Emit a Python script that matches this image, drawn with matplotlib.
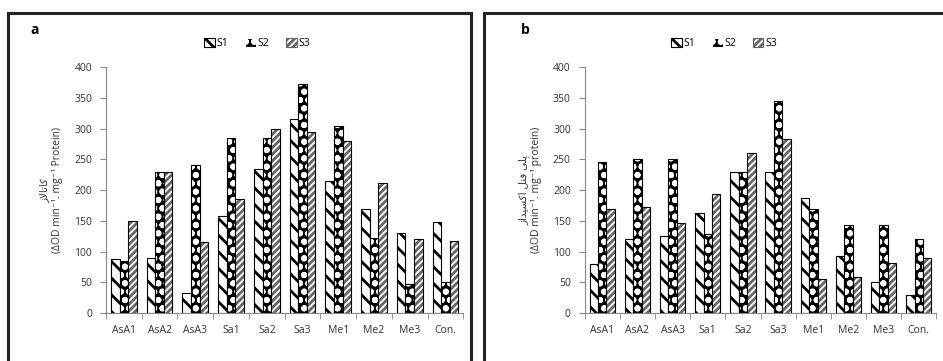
import matplotlib.pyplot as plt
import numpy as np
from matplotlib.patches import Rectangle

plt.rcParams['font.family'] = ['Open Sans', 'DejaVu Sans']
plt.rcParams['hatch.linewidth'] = 2.0

categories = ['AsA1', 'AsA2', 'AsA3', 'Sa1', 'Sa2', 'Sa3', 'Me1', 'Me2', 'Me3', 'Con.']
series = ['S1', 'S2', 'S3']

# panel a
a_s1 = [88, 90, 33, 158, 235, 315, 215, 170, 130, 148]
a_s2 = [84, 230, 240, 285, 285, 372, 305, 122, 47, 50]
a_s3 = [150, 230, 115, 185, 300, 295, 280, 212, 120, 117]

# panel b
b_s1 = [80, 120, 125, 163, 230, 230, 187, 92, 50, 30]
b_s2 = [245, 250, 250, 128, 230, 345, 170, 143, 143, 120]
b_s3 = [170, 172, 147, 193, 260, 283, 55, 58, 82, 90]

# Persian labels written as presentation forms in visual order
label_a = '\uFEAF\uFEFB\uFE8E\uFE97\uFE8E\uFB90' + '\n(\u0394OD min\u207B\u00B9. mg\u207B\u00B9 Protein)'
label_b = ('\uFEAF\uFE8D\uFEAA\uFBFF\uFEB4\uFB90\uFE8D \uFEDE\uFEE8\uFED3 \uFBFD\uFEE0\uFB58'
           + '\n(\u0394OD min\u207B\u00B9. mg\u207B\u00B9 protein)')

hatches = ['\\\\', 'oo', '/////']
faces = ['white', 'black', 'white']
hatch_cols = ['black', 'white', '#666666']

fig = plt.figure(figsize=(9.43, 3.61), dpi=100)

# panel frames
for x0, w in [(8, 463), (484, 470)]:
    fig.patches.append(Rectangle((x0 / 943, -0.05), w / 943, 1.05 - 13 / 361,
                                 transform=fig.transFigure, fill=False,
                                 edgecolor='#222222', linewidth=2.2))


def draw(ax, vals, ylabel, legend_x):
    x = np.arange(len(categories))
    w = 0.24
    handles = []
    for i, v in enumerate(vals):
        b = ax.bar(x + (i - 1) * w, v, w, color=faces[i], edgecolor=hatch_cols[i],
                   hatch=hatches[i], linewidth=0)
        handles.append(b)
        # black outline on top of the hatch
        ax.bar(x + (i - 1) * w, v, w, fill=False, edgecolor='black', linewidth=0.8)
    ax.set_ylim(0, 400)
    ax.set_xlim(-0.5, len(categories) - 0.5)
    ax.set_yticks(range(0, 401, 50))
    ax.set_xticks(x)
    ax.set_xticklabels(categories, fontsize=7.5, color='#333333')
    ax.set_xticks(np.arange(-0.5, len(categories), 1), minor=True)
    ax.tick_params(axis='x', which='major', length=0, pad=9)
    ax.tick_params(axis='x', which='minor', length=4, color='#888888')
    ax.tick_params(axis='y', length=4, color='#888888', labelsize=7.5,
                   labelcolor='#333333', pad=6)
    for s in ['top', 'right']:
        ax.spines[s].set_visible(False)
    for s in ['left', 'bottom']:
        ax.spines[s].set_color('#888888')
        ax.spines[s].set_linewidth(0.8)
    ax.set_ylabel(ylabel, fontsize=7.5, color='#333333', labelpad=8)
    leg = fig.legend(handles, series, loc='center', bbox_to_anchor=(legend_x, 0.88),
                     ncol=3, frameon=False, fontsize=7.5, handlelength=1.0,
                     handleheight=1.0, handletextpad=0.2, columnspacing=1.6)
    for p in leg.get_patches():
        p.set_linewidth(0.8)
    return ax


ax1 = fig.add_axes([0.1124, 0.133, 0.379, 0.681])
draw(ax1, [a_s1, a_s2, a_s3], label_a, 0.273)
fig.text(0.032, 0.905, 'a', fontsize=10, fontweight='bold')

ax2 = fig.add_axes([0.620, 0.133, 0.373, 0.681])
draw(ax2, [b_s1, b_s2, b_s3], label_b, 0.768)
fig.text(0.552, 0.905, 'b', fontsize=10, fontweight='bold')

fig.savefig('out.png', dpi=100)
